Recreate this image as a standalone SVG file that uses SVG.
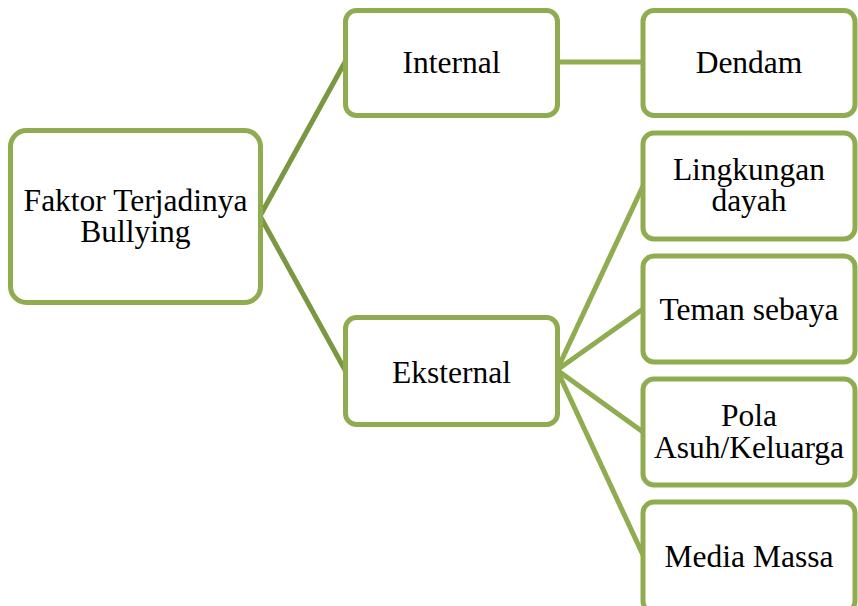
<svg xmlns="http://www.w3.org/2000/svg" width="858" height="606" viewBox="0 0 858 606">
<style>
.box{fill:#fff;stroke:#8FAD50;stroke-width:5}
.t{font-family:"Liberation Serif","Times New Roman",serif;font-size:31.5px;fill:#000;text-anchor:middle}
.c1{stroke:#7A9842;stroke-width:5;fill:none}
.c2{stroke:#8FAD50;stroke-width:5;fill:none}
</style>
<rect width="858" height="606" fill="#fff"/>
<g id="connectors">
<line class="c1" x1="260" y1="216" x2="345" y2="62"/>
<line class="c1" x1="260" y1="216" x2="345" y2="370"/>
<line class="c2" x1="557" y1="62" x2="643" y2="62"/>
<line class="c2" x1="557" y1="370" x2="643" y2="186"/>
<line class="c2" x1="557" y1="370" x2="643" y2="309"/>
<line class="c2" x1="557" y1="370" x2="643" y2="432"/>
<line class="c2" x1="557" y1="370" x2="643" y2="555"/>
</g>
<g id="root">
<rect class="box" x="10.5" y="130.5" width="250" height="172" rx="16"/>
<text class="t" x="135.5" y="211">Faktor Terjadinya</text>
<text class="t" x="135.5" y="242">Bullying</text>
</g>
<g id="internal">
<rect class="box" x="345.5" y="10.5" width="212" height="105" rx="11"/>
<text class="t" x="451.5" y="72.5">Internal</text>
</g>
<g id="eksternal">
<rect class="box" x="345.5" y="317.5" width="212" height="107" rx="11"/>
<text class="t" x="451.5" y="382.5">Eksternal</text>
</g>
<g id="dendam">
<rect class="box" x="643" y="10.5" width="212" height="105" rx="11"/>
<text class="t" x="749" y="72.5">Dendam</text>
</g>
<g id="lingkungan">
<rect class="box" x="643" y="133" width="212" height="106" rx="11"/>
<text class="t" x="749" y="180">Lingkungan</text>
<text class="t" x="749" y="211">dayah</text>
</g>
<g id="teman">
<rect class="box" x="643" y="256" width="212" height="106" rx="11"/>
<text class="t" x="749" y="320">Teman sebaya</text>
</g>
<g id="pola">
<rect class="box" x="643" y="379" width="212" height="106" rx="11"/>
<text class="t" x="749" y="426">Pola</text>
<text class="t" x="749" y="458">Asuh/Keluarga</text>
</g>
<g id="media">
<rect class="box" x="643" y="502" width="212" height="110" rx="11"/>
<text class="t" x="749" y="566.5">Media Massa</text>
</g>
</svg>
